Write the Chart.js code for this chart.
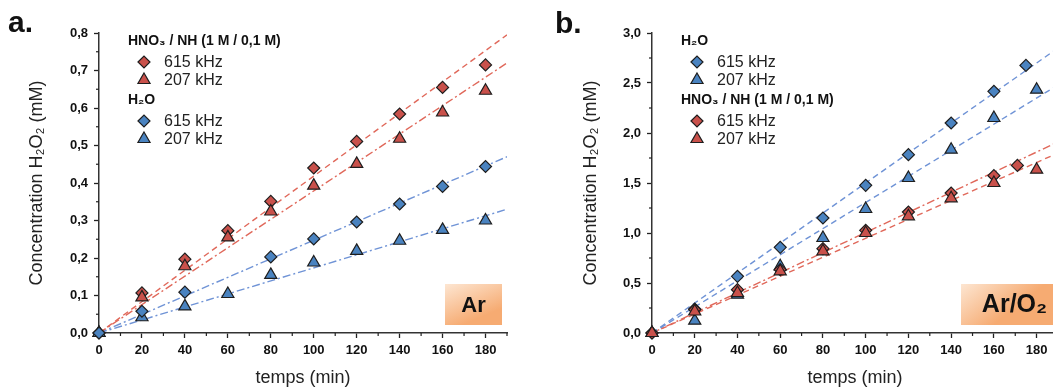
<!DOCTYPE html>
<html>
<head>
<meta charset="utf-8">
<script src="https://cdn.jsdelivr.net/npm/chart.js"></script>
<style>
  html, body { margin: 0; padding: 0; background: #fff; overflow: hidden; width: 1053px; height: 389px; }
  .panel { position: absolute; top: 0; height: 389px; }
  #pa { left: 0; width: 530px; }
  #pb { left: 530px; width: 550px; }
  .tag { position: absolute; font: bold 30px Arial, "Liberation Sans", sans-serif; line-height: 30px; color: #111; }
</style>
</head>
<body>
<div class="panel" id="pa"><canvas id="ca" width="530" height="389"></canvas></div>
<div class="panel" id="pb"><canvas id="cb" width="550" height="389"></canvas></div>
<div class="tag" style="left:8px;top:7px">a.</div>
<div class="tag" style="left:555px;top:8px">b.</div>
<script>
// fit lines run from t = 0 to the end of the axis
const fitX = [0, 190];

// panel a : Ar
const aTime = [0, 20, 40, 60, 80, 100, 120, 140, 160, 180];
const aHno3_615 = [0, 0.107, 0.197, 0.273, 0.351, 0.44, 0.511, 0.584, 0.655, 0.715];
const aHno3_207 = [0, 0.095, 0.178, 0.255, 0.324, 0.393, 0.451, 0.518, 0.588, 0.646];
const aH2o_615 = [0, 0.058, 0.109, null, 0.203, 0.251, 0.296, 0.344, 0.391, 0.444];
const aH2o_207 = [0, 0.042, 0.071, 0.104, 0.155, 0.188, 0.219, 0.246, 0.275, 0.300];
const aFitHno3_615 = [0, 0.795];
const aFitHno3_207 = [0, 0.72];
const aFitH2o_615 = [0, 0.47];
const aFitH2o_207 = [0, 0.33];

// panel b : Ar/O2
const bTime = [0, 20, 40, 60, 80, 100, 120, 140, 160, 180];
const bTimeH2o_615 = [0, 20, 40, 60, 80, 100, 120, 140, 160, 175];
const bTimeHno3_615 = [0, 20, 40, 60, 80, 100, 120, 140, 160, 171];
const bH2o_615 = [0, 0.24, 0.567, 0.857, 1.15, 1.477, 1.783, 2.1, 2.417, 2.676];
const bH2o_207 = [0, 0.123, 0.383, 0.667, 0.95, 1.24, 1.55, 1.833, 2.15, 2.433];
const bHno3_615 = [0, 0.233, 0.433, 0.633, 0.843, 1.027, 1.21, 1.4, 1.573, 1.676];
const bHno3_207 = [0, 0.215, 0.4, 0.617, 0.817, 1.0, 1.167, 1.347, 1.5, 1.633];
const bFitH2o_615 = [0, 2.85];
const bFitH2o_207 = [0, 2.48];
const bFitHno3_615 = [0, 1.91];
const bFitHno3_207 = [0, 1.80];

const RED = '#c9514b', BLUE = '#4a83c0';
const RED_LINE = '#e0685a', BLUE_LINE = '#6f93d6';
const DASH = [6, 4], DASHDOT = [8, 3, 2, 3];
const FONT = 'Arial, "Liberation Sans", sans-serif';
const HNO3 = 'HNO\u2083 / NH (1 M / 0,1 M)';
const H2O = 'H\u2082O';

function pts(xs, ys) {
  return xs.map((x, i) => ({ x: x, y: ys[i] })).filter(p => p.y !== null);
}
function markers(xs, ys, color, style, order) {
  return {
    data: pts(xs, ys), backgroundColor: color, borderColor: '#1e1e1e', borderWidth: 1.2,
    pointStyle: style, pointRadius: style === 'triangle' ? 7 : 6, pointHoverRadius: 7,
    showLine: false, clip: false, order: order
  };
}
function fit(ys, color, dash) {
  return {
    data: pts(fitX, ys), borderColor: color, borderWidth: 1.4, borderDash: dash,
    pointRadius: 0, showLine: true, fill: false, order: 10
  };
}
function isMajor(v, step) {
  const r = v / step;
  return Math.abs(r - Math.round(r)) < 1e-6;
}

function drawMarker(ctx, style, x, y, color) {
  ctx.beginPath();
  if (style === 'triangle') {
    const r = 7;
    ctx.moveTo(x, y - r);
    ctx.lineTo(x + r * 0.866, y + r * 0.5);
    ctx.lineTo(x - r * 0.866, y + r * 0.5);
  } else {
    const r = 6;
    ctx.moveTo(x - r, y); ctx.lineTo(x, y - r); ctx.lineTo(x + r, y); ctx.lineTo(x, y + r);
  }
  ctx.closePath();
  ctx.fillStyle = color; ctx.fill();
  ctx.lineWidth = 1.2; ctx.strokeStyle = '#1e1e1e'; ctx.stroke();
}

const groupLegend = {
  id: 'groupLegend',
  afterDraw(chart, args, opts) {
    const ctx = chart.ctx, area = chart.chartArea;
    const x0 = area.left + 29;
    let y = area.top + 8;
    ctx.save();
    ctx.textAlign = 'left'; ctx.textBaseline = 'middle';
    opts.groups.forEach((g, gi) => {
      if (gi > 0) y += 20;
      ctx.font = 'bold 14px ' + FONT; ctx.fillStyle = '#111';
      ctx.fillText(g.title, x0, y);
      y += 21;
      g.items.forEach((it, ii) => {
        if (ii > 0) y += 18;
        drawMarker(ctx, it.style, x0 + 16, y, it.color);
        ctx.font = '16px ' + FONT; ctx.fillStyle = '#222';
        ctx.fillText(it.label, x0 + 36, y + 1);
      });
    });
    ctx.restore();
  }
};

const gasTag = {
  id: 'gasTag',
  afterDraw(chart, args, opts) {
    const ctx = chart.ctx, a = chart.chartArea;
    const x = a.right - opts.dx, y = a.bottom - 49, w = opts.w, h = 41;
    ctx.save();
    const g = ctx.createLinearGradient(x, y, x + w * 0.3, y + h);
    g.addColorStop(0, '#fde6d2');
    g.addColorStop(1, '#f6ab72');
    ctx.fillStyle = g;
    ctx.fillRect(x, y, w, h);
    ctx.font = opts.font; ctx.fillStyle = '#111';
    ctx.textAlign = 'center'; ctx.textBaseline = 'middle';
    ctx.fillText(opts.text, x + w / 2, y + h / 2 + 1);
    ctx.restore();
  }
};

const minorTicks = {
  id: 'minorTicks',
  afterDraw(chart, args, opts) {
    const ctx = chart.ctx;
    ctx.save();
    ctx.strokeStyle = '#222'; ctx.lineWidth = 1.2;
    ['x', 'y'].forEach(id => {
      const s = chart.scales[id], major = opts[id];
      s.ticks.forEach(t => {
        if (isMajor(t.value, major)) return;
        const p = s.getPixelForValue(t.value);
        ctx.beginPath();
        if (id === 'x') { ctx.moveTo(p, s.top); ctx.lineTo(p, s.top + 3); }
        else { ctx.moveTo(s.right, p); ctx.lineTo(s.right - 3, p); }
        ctx.stroke();
      });
    });
    ctx.restore();
  }
};

function makeChart(canvasId, p) {
  return new Chart(document.getElementById(canvasId), {
    type: 'scatter',
    data: { datasets: p.datasets },
    plugins: [groupLegend, gasTag, minorTicks],
    options: {
      responsive: false,
      animation: false,
      events: [],
      layout: { autoPadding: false, padding: { left: 0, top: 33, right: p.padRight, bottom: 0 } },
      plugins: {
        legend: { display: false },
        tooltip: { enabled: false },
        groupLegend: { groups: p.groups },
        gasTag: p.tag,
        minorTicks: { x: 20, y: p.yMajor }
      },
      scales: {
        x: {
          type: 'linear', min: 0, max: 190,
          afterFit: s => { s.height = 56; },
          border: { color: '#333', width: 1.5 },
          grid: {
            drawOnChartArea: false, tickLength: 5, tickWidth: 1.3,
            tickColor: c => isMajor(c.tick.value, 20) ? '#222' : 'rgba(0,0,0,0)'
          },
          ticks: {
            stepSize: 10, autoSkip: false, maxRotation: 0, padding: 5,
            color: '#111', font: { family: FONT, size: 13, weight: 'bold' },
            callback: v => isMajor(v, 20) ? String(v) : ''
          },
          title: {
            display: true, text: 'temps (min)', color: '#222',
            font: { family: FONT, size: 18 }, padding: { top: 0, bottom: 0 }
          }
        },
        y: {
          type: 'linear', min: 0, max: p.yMax,
          afterFit: s => { s.width = p.yWidth; },
          border: { color: '#333', width: 1.5 },
          grid: {
            drawOnChartArea: false, tickLength: 5, tickWidth: 1.3,
            tickColor: c => isMajor(c.tick.value, p.yMajor) ? '#222' : 'rgba(0,0,0,0)'
          },
          ticks: {
            stepSize: p.yMajor / 2, autoSkip: false, padding: 6,
            color: '#111', font: { family: FONT, size: 13, weight: 'bold' },
            callback: v => isMajor(v, p.yMajor) ? v.toFixed(1).replace('.', ',') : ''
          },
          title: {
            display: true, text: 'Concentration H\u2082O\u2082 (mM)', color: '#222',
            font: { family: FONT, size: 18 }, padding: { top: p.titlePad, bottom: 0 }
          }
        }
      }
    }
  });
}

makeChart('ca', {
  yMax: 0.8, yMajor: 0.1, yWidth: 99, padRight: 23, titlePad: 26,
  datasets: [
    markers(aTime, aH2o_615, BLUE, 'rectRot', 1),
    markers(aTime, aH2o_207, BLUE, 'triangle', 2),
    markers(aTime, aHno3_207, RED, 'triangle', 3),
    markers(aTime, aHno3_615, RED, 'rectRot', 4),
    fit(aFitHno3_615, RED_LINE, DASH),
    fit(aFitHno3_207, RED_LINE, DASHDOT),
    fit(aFitH2o_615, BLUE_LINE, DASHDOT),
    fit(aFitH2o_207, BLUE_LINE, DASHDOT)
  ],
  groups: [
    { title: HNO3, items: [{ label: '615 kHz', color: RED, style: 'rectRot' }, { label: '207 kHz', color: RED, style: 'triangle' }] },
    { title: H2O, items: [{ label: '615 kHz', color: BLUE, style: 'rectRot' }, { label: '207 kHz', color: BLUE, style: 'triangle' }] }
  ],
  tag: { text: 'Ar', dx: 62, w: 57, font: 'bold 22px ' + FONT }
});

makeChart('cb', {
  yMax: 3.0, yMajor: 0.5, yWidth: 122, padRight: 22, titlePad: 50,
  datasets: [
    markers(bTime, bHno3_207, RED, 'triangle', 1),
    markers(bTimeHno3_615, bHno3_615, RED, 'rectRot', 2),
    markers(bTime, bH2o_207, BLUE, 'triangle', 3),
    markers(bTimeH2o_615, bH2o_615, BLUE, 'rectRot', 4),
    fit(bFitH2o_615, BLUE_LINE, DASH),
    fit(bFitH2o_207, BLUE_LINE, DASH),
    fit(bFitHno3_615, RED_LINE, DASHDOT),
    fit(bFitHno3_207, RED_LINE, DASH)
  ],
  groups: [
    { title: H2O, items: [{ label: '615 kHz', color: BLUE, style: 'rectRot' }, { label: '207 kHz', color: BLUE, style: 'triangle' }] },
    { title: HNO3, items: [{ label: '615 kHz', color: RED, style: 'rectRot' }, { label: '207 kHz', color: RED, style: 'triangle' }] }
  ],
  tag: { text: 'Ar/O\u2082', dx: 97, w: 107, font: 'bold 25px ' + FONT }
});
</script>
</body>
</html>
